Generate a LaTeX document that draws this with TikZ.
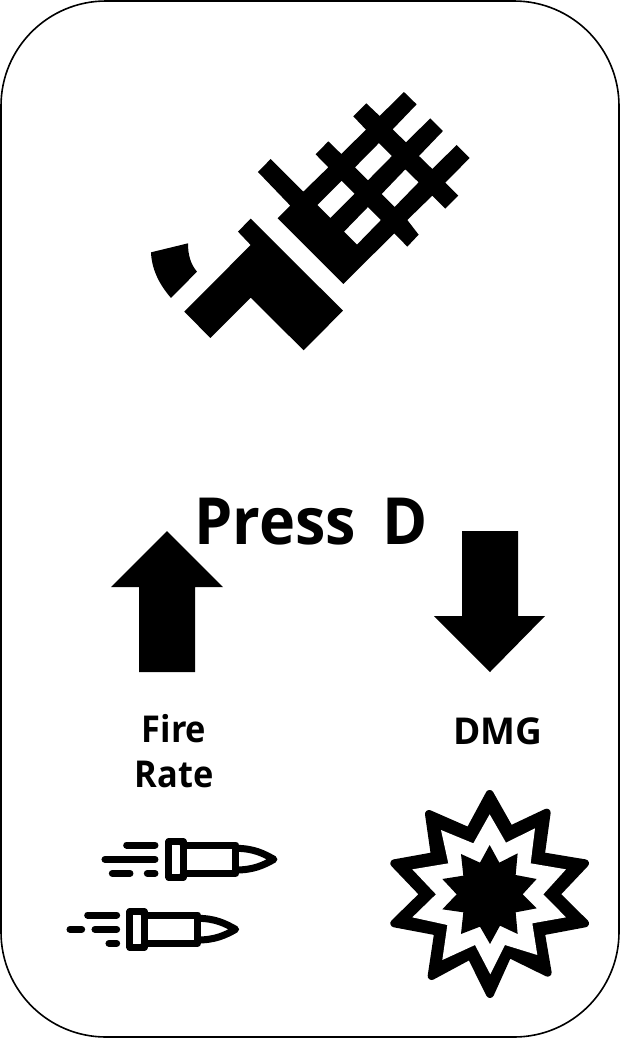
\documentclass[tikz,border=0pt]{standalone}
\usepackage{fontspec}
\setmainfont{Open Sans}
\begin{document}
\begin{tikzpicture}[x=1pt,y=-1pt,
  frame/.style={draw=black,line width=1.6pt,fill=white,rounded corners=105pt},
  solid/.style={fill=black,draw=none},
  stk/.style={draw=black,line width=7pt,line cap=round,line join=round},
  big/.style={font=\bfseries\fontsize{65}{65}\selectfont,inner sep=0pt,text=black,xscale=0.94},
  lab/.style={font=\bfseries\fontsize{37}{40}\selectfont,inner sep=0pt,text=black,xscale=0.93},
  labw/.style={font=\bfseries\fontsize{37}{40}\selectfont,inner sep=0pt,text=black}]
\useasboundingbox (0,0) rectangle (621,1039);
\draw[frame] (1,1) rectangle (619,1037);
% gun
\begin{scope}[shift={(130,80)},x=0.3333pt,y=-0.3333pt]
\fill[solid,even odd rule]
 (443,415)--(481,377)--(384,276)--(422,237)--(520,335)--(595,262)--(557,223)--(595,184)--(634,222)--(708,149)--(670,109)--(709,70)--(749,108)--(822,36)--(860,73)--(788,148)--(828,187)--(901,115)--(939,153)--(867,228)--(907,267)--(980,195)--(1019,234)--(946,308)--(985,347)--(946,386)--(907,347)--(832,420)--(866,464)--(832,500)--(793,460)--(640,612)--cycle
 (747,189)--(786,228)--(714,301)--(675,262)--cycle
 (635,302)--(674,341)--(601,414)--(562,375)--cycle
 (826,268)--(866,307)--(794,381)--(755,342)--cycle
 (714,381)--(753,420)--(681,494)--(642,455)--cycle;
\fill[solid] (362,416)--(639,692)--(521,811)--(362,653)--(241,774)--(163,695)--(362,495)--(324,455)--cycle;
\fill[solid] (63,517)--(174,490) .. controls (174,525) and (182,553) .. (201,575)--(123,654) .. controls (85,610) and (65,565) .. (63,517)--cycle;
\end{scope}
% text
\node[big,anchor=base] (press) at (275,544) {Press};
\node[big,anchor=base] (d) at (405,544) {D};
\node[lab,anchor=base] (fire) at (174,742) {Fire};
\node[lab,anchor=base] (rate) at (174,787) {Rate};
\node[labw,anchor=base] (dmg) at (498,744) {DMG};
% arrows
\fill[solid] (167,531)--(223,587)--(195,587)--(195,672)--(139,672)--(139,587)--(111,587)--cycle;
\fill[solid] (462,531)--(518,531)--(518,616)--(545,616)--(490,672)--(434,616)--(462,616)--cycle;
% bullets
\begin{scope}[shift={(50,820)},x=0.3333pt,y=-0.3333pt]
\draw[stk] (230,75)--(315,75) (165,118)--(315,118) (187,160)--(240,160) (292,160)--(315,160);
\draw[stk] (357,65) rectangle (400,172);
\draw[stk] (400,75)--(558,75)--(558,160)--(400,160);
\draw[stk] (558,85) .. controls (610,85) and (640,100) .. (672,118) .. controls (640,136) and (610,150) .. (558,150);
\draw[stk] (113,285)--(200,285) (60,328)--(95,328) (135,328)--(200,328) (177,370)--(200,370);
\draw[stk] (240,275) rectangle (283,382);
\draw[stk] (283,285)--(443,285)--(443,370)--(283,370);
\draw[stk] (443,295) .. controls (495,295) and (525,310) .. (557,328) .. controls (525,346) and (495,360) .. (443,360);
\end{scope}
% burst
\begin{scope}[shift={(380,780)},x=0.3333pt,y=-0.3333pt]
\fill[solid,even odd rule,draw=black,line width=8pt,line join=round]
 (329,42)--(390,150)--(500,98)--(482,228)--(615,250)--(527,343)--(615,430)--(482,455)--(503,578)--(385,520)--(330,642)--(272,525)--(155,588)--(175,455)--(43,430)--(132,343)--(43,250)--(165,228)--(147,102)--(268,155)--cycle;
\fill[white] (329,103)--(378,188)--(465,145)--(452,250)--(558,268)--(490,343)--(558,412)--(457,430)--(472,525)--(375,495)--(331,583)--(285,495)--(187,540)--(202,435)--(97,412)--(168,343)--(97,268)--(205,250)--(183,150)--(280,190)--cycle;
\fill[solid] (329,195)--(358,248)--(413,220)--(407,285)--(470,297)--(428,343)--(470,385)--(407,397)--(413,462)--(360,437)--(330,492)--(300,440)--(243,462)--(250,397)--(187,388)--(230,343)--(187,297)--(250,287)--(243,222)--(300,248)--cycle;
\end{scope}
\end{tikzpicture}
\end{document}
